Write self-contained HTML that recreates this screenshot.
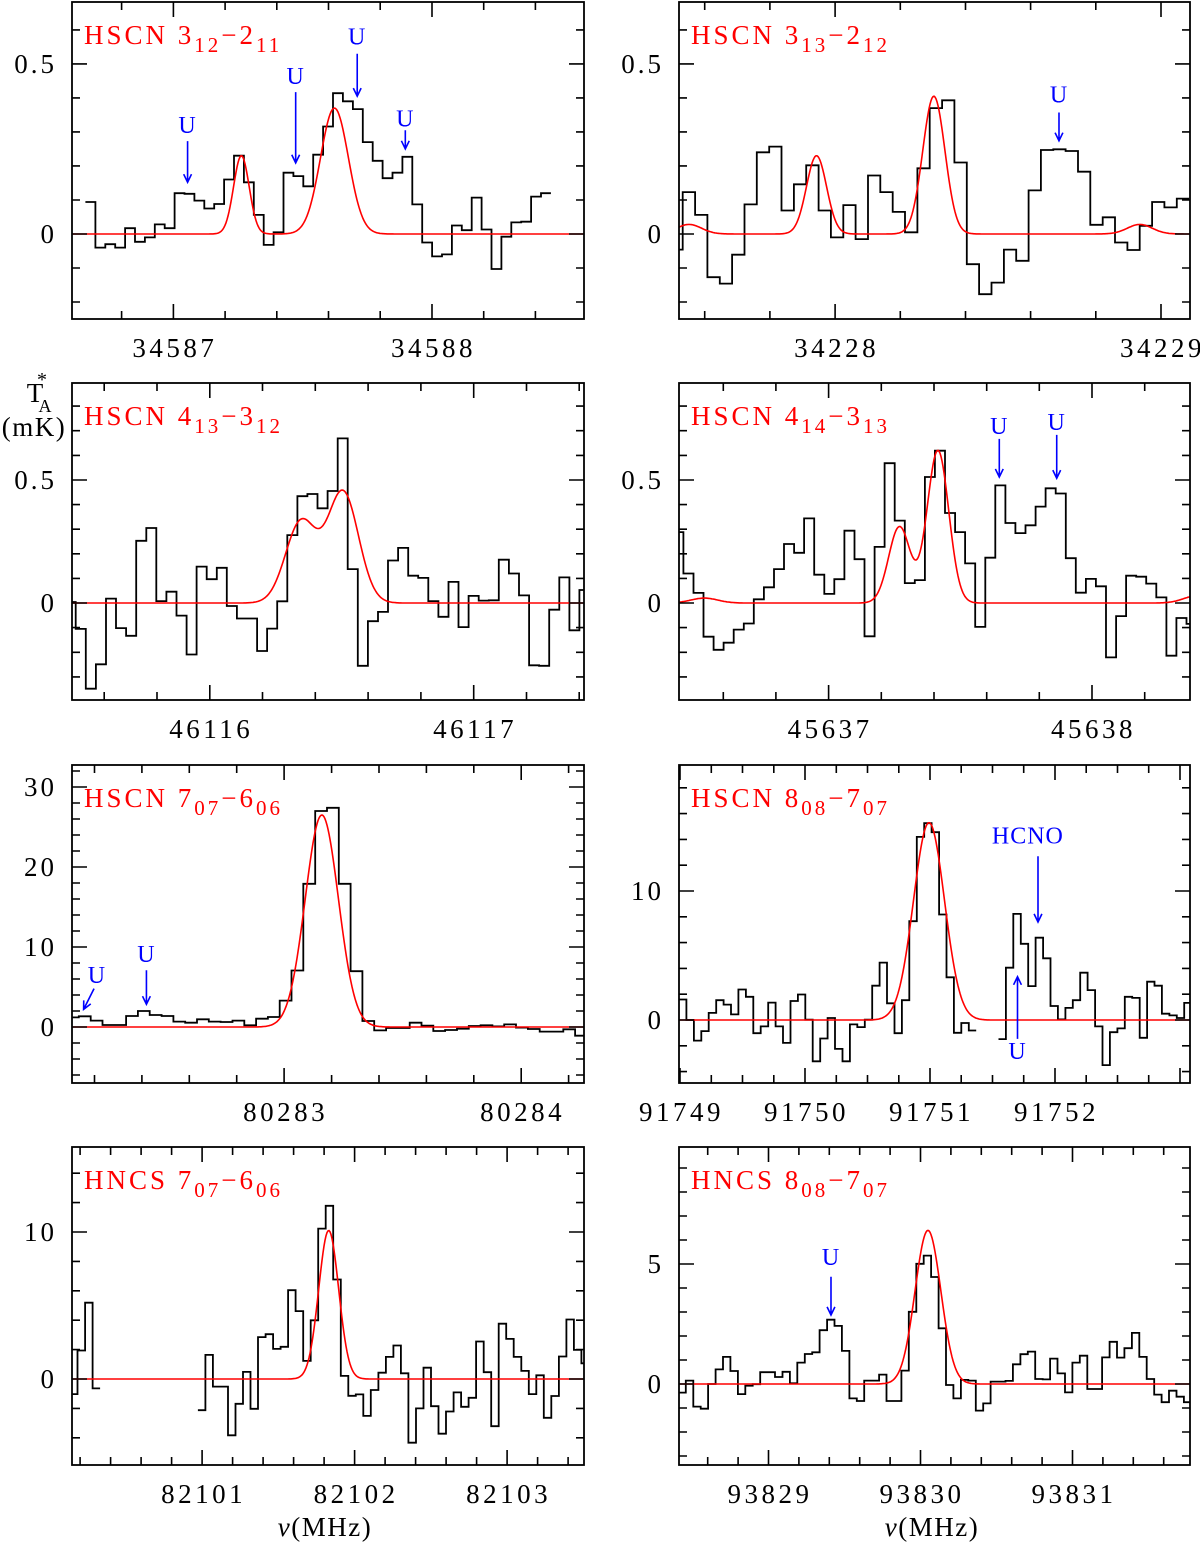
<!DOCTYPE html>
<html><head><meta charset="utf-8">
<style>
html,body{margin:0;padding:0;background:#fff;}
svg{display:block;}
text{font-family:"Liberation Serif","DejaVu Serif",serif;}
</style></head>
<body>
<svg id="fig" width="1200" height="1543" viewBox="0 0 1200 1543" xmlns="http://www.w3.org/2000/svg">
<text x="35" y="402" font-size="27" text-anchor="middle">T</text>
<text x="42" y="386" font-size="20" text-anchor="middle">*</text>
<text x="45" y="412" font-size="18" text-anchor="middle">A</text>
<text x="34" y="436" font-size="27" letter-spacing="1.5" text-anchor="middle">(mK)</text>
<text x="325" y="1536" font-size="27" letter-spacing="1.5" text-anchor="middle"><tspan font-style="italic">ν</tspan>(MHz)</text>
<text x="932" y="1536" font-size="27" letter-spacing="1.5" text-anchor="middle"><tspan font-style="italic">ν</tspan>(MHz)</text>
</svg>
<script>
// ---- data ----
const p1Values = [0.094,-0.04,-0.03,-0.04,0.017,-0.023,-0.01,0.028,0.017,0.12,0.118,0.098,0.075,0.088,0.16,0.23,0.152,0.056,-0.032,0.005,0.18,0.17,0.14,0.233,0.316,0.414,0.39,0.367,0.27,0.215,0.164,0.18,0.227,0.087,-0.025,-0.066,-0.06,0.025,0.011,0.107,0.013,-0.103,-0.008,0.034,0.036,0.11,0.12];
const p1LineFreq = [34587.263, 34587.623];
const p1LineAmp = [0.23, 0.37];
const p1LineFwhm = [0.071, 0.127];
const p1ArrowFreq = [34587.055, 34587.473, 34587.711, 34587.897];
const p1ArrowTip = [0.152, 0.209, 0.405, 0.25];
const p1ArrowTail = [0.273, 0.417, 0.53, 0.305];
const p1ArrowLabel = [0.32, 0.465, 0.58, 0.34];

const p2Values = [-0.046,0.123,0.056,-0.127,-0.146,-0.061,0.087,0.24,0.257,0.069,0.146,0.202,0.069,-0.01,0.085,-0.015,0.172,0.123,0.065,0.005,0.193,0.37,0.393,0.21,-0.089,-0.177,-0.143,-0.046,-0.079,0.128,0.247,0.249,0.244,0.183,0.027,0.049,-0.025,-0.047,0.024,0.094,0.078,0.104];
const p2LineFreq = [34227.552, 34227.943, 34228.303, 34228.935];
const p2LineAmp = [0.028, 0.23, 0.405, 0.028];
const p2LineFwhm = [0.09, 0.0725, 0.08, 0.09];
const p2ArrowFreq = [34228.687];
const p2ArrowTip = [0.274];
const p2ArrowTail = [0.357];
const p2ArrowLabel = [0.41];

const p3Values = [0.004,-0.105,-0.348,-0.249,0.018,-0.102,-0.133,0.253,0.305,0.008,0.046,-0.051,-0.209,0.148,0.097,0.143,-0.012,-0.063,-0.063,-0.195,-0.104,0.007,0.276,0.434,0.443,0.385,0.455,0.669,0.138,-0.255,-0.074,-0.036,0.173,0.224,0.111,0.102,0.008,-0.056,0.086,-0.098,0.029,0.01,0.011,0.176,0.12,0.031,-0.253,-0.255,-0.027,0.104,-0.111,0.053];
const p3LineFreq = [46116.346, 46116.505];
const p3LineAmp = [0.33, 0.45];
const p3LineFwhm = [0.138, 0.138];

const p4Values = [0.288,0.12,0.041,-0.137,-0.19,-0.161,-0.108,-0.083,0.015,0.064,0.138,0.24,0.204,0.344,0.115,0.037,0.097,0.294,0.178,-0.135,0.228,0.568,0.335,0.081,0.093,0.512,0.619,0.366,0.288,0.161,-0.097,0.184,0.478,0.325,0.284,0.316,0.392,0.466,0.445,0.182,0.042,0.098,0.068,-0.221,-0.053,0.111,0.107,0.079,0.023,-0.214,-0.061,-0.085];
const p4LineFreq = [45636.528, 45637.269, 45637.415, 45638.40];
const p4LineAmp = [0.02, 0.31, 0.62, 0.03];
const p4LineFwhm = [0.12, 0.0965, 0.0965, 0.12];
const p4ArrowFreq = [45637.648, 45637.866];
const p4ArrowTip = [0.512, 0.507];
const p4ArrowTail = [0.667, 0.683];
const p4ArrowLabel = [0.72, 0.735];

const p5Values = [1.2,1.34,0.8,0.25,0.25,1.38,2.0,1.5,1.38,0.67,0.54,0.96,0.67,0.63,0.8,0.21,1.04,1.25,3.3,7.06,17.9,27.0,27.4,17.9,6.98,0.75,-0.42,-0.13,-0.13,0.54,0.17,-0.5,-0.38,-0.21,0.13,0.21,0.08,0.33,-0.08,-0.25,-0.58,-0.58,-0.29,-1.09];
const p5LineFreq = [80283.159];
const p5LineAmp = [26.5];
const p5LineFwhm = [0.1645];
const p5ArrowFreq = [80282.419, 80282.154];
const p5ArrowTailFreq = [80282.419, 80282.198];
const p5ArrowTip = [2.84, 2.2];
const p5ArrowTail = [7.1, 4.8];
const p5ArrowLabel = [9.1, 6.5];
const p5ArrowLabelFreq = [80282.419, 80282.21];

const p6Values = [1.59,0,-1.59,-0.86,0.55,1.54,1.2,0.44,2.37,1.8,-1.02,-0.49,1.35,-0.49,-1.77,1.48,1.98,0.03,-3.2,-1.43,0.16,-2.24,-3.2,-0.34,-0.55,0.03,2.66,4.45,1.3,-1.02,1.54,7.66,14.2,15.26,14.56,8.18,3.31,-0.99,-0.23,-0.81,null,null,null,-1.48,4.06,8.23,5.91,2.63,6.38,4.79,1.09,0.05,0.94,1.54,3.67,2.32,-0.49,-3.49,-0.94,-0.65,1.8,1.72,-1.38,2.97,2.66,0.49,0.36,0.16,1.33];
const p6LineFreq = [91750.992];
const p6LineAmp = [15.3];
const p6LineFwhm = [0.292];
const p6ArrowFreq = [91751.864, 91751.700];
const p6ArrowTip = [7.6, 3.36];
const p6ArrowTail = [12.7, -1.46];
const p6ArrowLabel = [14.3, -2.4];
const p6ArrowLabelFreq = [91751.783, 91751.700];
const p6ArrowText = ['HCNO', 'U'];

const p7Values = [-1.03,1.94,5.19,-0.64,null,null,null,null,null,null,null,null,null,null,null,null,null,-2.12,1.64,-0.52,-0.52,-3.83,-1.69,0.48,-2.03,2.85,3.05,2.05,2.19,6.04,4.62,1.23,3.99,10.23,11.78,6.77,0.21,-1.14,-1.05,-2.51,-0.75,0.43,1.5,2.28,0.39,-4.33,-2.0,0.77,-1.85,-3.72,-2.21,-0.91,-1.89,-1.28,2.55,0.46,-3.21,3.76,2.73,1.5,0.55,-1.03,0.25,-2.64,-1.16,1.53,4.05,1.98,1.07];
const p7LineFreq = [82101.830];
const p7LineAmp = [10.1];
const p7LineFwhm = [0.154];

const p8Values = [-0.36,0.14,-0.94,-1.03,0,0.61,1.13,0.54,-0.42,-0.07,-0.01,0.49,0.49,0.29,0.51,0.03,0.89,1.25,1.32,2.24,2.68,2.42,1.38,-0.6,-0.71,0.14,0.14,0.39,-0.71,-0.71,0.56,3.01,5.01,5.35,4.46,2.32,-0.04,-0.6,0.17,0.14,-1.11,-0.81,0.1,0.1,0.13,0.82,1.24,1.35,0.21,0.19,1.06,0.44,-0.35,0.89,1.18,-0.21,-0.21,1.11,1.76,1.1,1.49,2.13,1.13,0.21,-0.44,-0.76,-0.28,-0.53,-0.76];
const p8LineFreq = [93830.049];
const p8LineAmp = [6.4];
const p8LineFwhm = [0.20];
const p8ArrowFreq = [93829.411];
const p8ArrowTip = [2.875];
const p8ArrowTail = [4.47];
const p8ArrowLabel = [5.3];

const p1XLabels = [34587, 34588], p2XLabels = [34228, 34229];
const p3XLabels = [46116, 46117], p4XLabels = [45637, 45638];
const p5XLabels = [80283, 80284], p6XLabels = [91749, 91750, 91751, 91752];
const p7XLabels = [82101, 82102, 82103], p8XLabels = [93829, 93830, 93831];
const p1YLabels = [0, 0.5], p3YLabels = [0, 0.5];
const p5YLabels = [0, 10, 20, 30], p6YLabels = [0, 10], p7YLabels = [0, 10], p8YLabels = [0, 5];

// ---- layout ----
const NS = 'http://www.w3.org/2000/svg';
const fig = document.getElementById('fig');
function mk(tag, attrs, parent) {
  const e = document.createElementNS(NS, tag);
  for (const k in attrs) e.setAttribute(k, attrs[k]);
  (parent || fig).appendChild(e);
  return e;
}
const panels = [
  {n:1, box:[72,2,584,319], xd:[34586.608,34588.588], yd:[-0.25,0.682], xs:0.2, ys:0.1, ym:0.5, vals:p1Values, start:34586.66, w:0.0383, lf:p1LineFreq, la:p1LineAmp, lw:p1LineFwhm, xl:p1XLabels, yl:p1YLabels, t:['HSCN 3','12','−2','11'],
   ar:{f:p1ArrowFreq, tip:p1ArrowTip, tail:p1ArrowTail, lab:p1ArrowLabel}},
  {n:2, box:[679,2,1190,319], xd:[34227.521,34229.089], yd:[-0.25,0.682], xs:0.2, ys:0.1, ym:0.5, vals:p2Values, start:34227.4945, w:0.0379, lf:p2LineFreq, la:p2LineAmp, lw:p2LineFwhm, xl:p2XLabels, yl:p1YLabels, t:['HSCN 3','13','−2','12'],
   ar:{f:p2ArrowFreq, tip:p2ArrowTip, tail:p2ArrowTail, lab:p2ArrowLabel}},
  {n:3, box:[72,383,584,700], xd:[46115.478,46117.418], yd:[-0.394,0.894], xs:0.2, ys:0.1, ym:0.5, vals:p3Values, start:46115.454, w:0.03817, lf:p3LineFreq, la:p3LineAmp, lw:p3LineFwhm, xl:p3XLabels, yl:p3YLabels, t:['HSCN 4','13','−3','12'], ar:null},
  {n:4, box:[679,383,1190,700], xd:[45636.432,45638.372], yd:[-0.394,0.894], xs:0.2, ys:0.1, ym:0.5, vals:p4Values, start:45636.4105, w:0.0382, lf:p4LineFreq, la:p4LineAmp, lw:p4LineFwhm, xl:p4XLabels, yl:p3YLabels, t:['HSCN 4','14','−3','13'],
   ar:{f:p4ArrowFreq, tip:p4ArrowTip, tail:p4ArrowTail, lab:p4ArrowLabel}},
  {n:5, box:[72,765,584,1083], xd:[80282.105,80284.265], yd:[-7,32.75], xs:0.2, ys:2, ym:10, vals:p5Values, start:80282.084, w:0.04985, lf:p5LineFreq, la:p5LineAmp, lw:p5LineFwhm, xl:p5XLabels, yl:p5YLabels, t:['HSCN 7','07','−6','06'],
   ar:{f:p5ArrowFreq, tf:p5ArrowTailFreq, lf:p5ArrowLabelFreq, tip:p5ArrowTip, tail:p5ArrowTail, lab:p5ArrowLabel}},
  {n:6, box:[679,765,1190,1083], xd:[91748.992,91753.08], yd:[-4.88,19.77], xs:0.25, ys:2, ym:10, vals:p6Values, start:91748.992, w:0.05944, lf:p6LineFreq, la:p6LineAmp, lw:p6LineFwhm, xl:p6XLabels, yl:p6YLabels, t:['HSCN 8','08','−7','07'],
   ar:{f:p6ArrowFreq, lf:p6ArrowLabelFreq, tip:p6ArrowTip, tail:p6ArrowTail, lab:p6ArrowLabel, txt:p6ArrowText}},
  {n:7, box:[72,1147,584,1465], xd:[82100.147,82103.504], yd:[-5.85,15.78], xs:0.2, ys:2, ym:10, vals:p7Values, start:82100.134, w:0.04931, lf:p7LineFreq, la:p7LineAmp, lw:p7LineFwhm, xl:p7XLabels, yl:p7YLabels, t:['HNCS 7','07','−6','06'], ar:null},
  {n:8, box:[679,1147,1190,1465], xd:[93828.411,93831.773], yd:[-3.375,9.875], xs:0.2, ys:1, ym:5, vals:p8Values, start:93828.407, w:0.04891, lf:p8LineFreq, la:p8LineAmp, lw:p8LineFwhm, xl:p8XLabels, yl:p8YLabels, t:['HNCS 8','08','−7','07'],
   ar:{f:p8ArrowFreq, tip:p8ArrowTip, tail:p8ArrowTail, lab:p8ArrowLabel}}
];

panels.forEach(p => {
  const [x0,y0,x1,y1] = p.box;
  const sx = f => x0 + (f - p.xd[0]) / (p.xd[1] - p.xd[0]) * (x1 - x0);
  const sy = v => y0 + (p.yd[1] - v) / (p.yd[1] - p.yd[0]) * (y1 - y0);
  const g = mk('g', {});
  
  
  const cp = mk('clipPath', {id: 'clip' + p.n}, g);
  mk('rect', {x:x0, y:y0, width:x1-x0, height:y1-y0}, cp);

  let d = '';
  for (let px = x0; px <= x1; px += 1) {
    const f = p.xd[0] + (px - x0) / (x1 - x0) * (p.xd[1] - p.xd[0]);
    let v = 0;
    for (let i = 0; i < p.lf.length; i++) {
      v += p.la[i] * Math.exp(-4 * Math.LN2 * Math.pow(f - p.lf[i], 2) / Math.pow(p.lw[i], 2));
    }
    d += (d ? 'L' : 'M') + sx(f).toFixed(1) + ',' + sy(v).toFixed(1);
  }
  let s = '';
  let prev = null;
  p.vals.forEach((v, i) => {
    const a = sx(p.start + i * p.w), b = sx(p.start + (i + 1) * p.w);
    if (v === null) { prev = null; return; }
    if (prev === null) s += 'M' + a.toFixed(1) + ',' + sy(v).toFixed(1);
    else s += 'L' + a.toFixed(1) + ',' + sy(v).toFixed(1);
    s += 'L' + b.toFixed(1) + ',' + sy(v).toFixed(1);
    prev = v;
  });
  const sp = mk('path', {d:s, fill:'none', stroke:'#000', 'stroke-width':1.8, 'clip-path':'url(#clip'+p.n+')'}, g);
  
  
  const mp = mk('path', {d:d, fill:'none', stroke:'#ff0000', 'stroke-width':1.6, 'clip-path':'url(#clip'+p.n+')'}, g);
  
  

  const fr = mk('rect', {x:x0, y:y0, width:x1-x0, height:y1-y0, fill:'none', stroke:'#000', 'stroke-width':1.8}, g);
  
  

  let tk = '';
  const isMaj = (v, m) => Math.abs(v / m - Math.round(v / m)) < 1e-6;
  for (let k = Math.ceil(p.xd[0] / p.xs); k * p.xs <= p.xd[1]; k++) {
    const v = k * p.xs, X = sx(v).toFixed(1);
    const L = isMaj(v, 1) ? 15 : 8;
    tk += 'M' + X + ',' + y1 + 'v-' + L + 'M' + X + ',' + y0 + 'v' + L;
  }
  for (let k = Math.ceil(p.yd[0] / p.ys - 1e-9); k * p.ys <= p.yd[1]; k++) {
    const v = k * p.ys, Y = sy(v).toFixed(1);
    const L = isMaj(v, p.ym) ? 15 : 8;
    tk += 'M' + x0 + ',' + Y + 'h' + L + 'M' + x1 + ',' + Y + 'h-' + L;
  }
  const tp = mk('path', {d:tk, stroke:'#000', 'stroke-width':1.6, fill:'none'}, g);
  
  

  p.xl.forEach(v => {
    const t = mk('text', {x:sx(v) + 1.5, y:y1 + 38, 'font-size':27, 'letter-spacing':3.5, 'text-anchor':'middle'}, g);
    t.textContent = String(v);
    
    
  });
  p.yl.forEach(v => {
    const t = mk('text', {x:x0 - 15, y:sy(v) + 9, 'font-size':27, 'letter-spacing':3, 'text-anchor':'end'}, g);
    t.textContent = String(v);
    
    
  });

  const tt = mk('text', {x:x0 + 12, y:y0 + 42, 'font-size':27, fill:'#ff0000', 'letter-spacing':3}, g);
  
  
  const parts = [[p.t[0],0,27],[p.t[1],8,21],[p.t[2],-8,27],[p.t[3],8,21]];
  parts.forEach(q => {
    const ts = mk('tspan', {dy:q[1], 'font-size':q[2]}, tt);
    ts.textContent = q[0];
  });

  if (p.ar) {
    const a = p.ar;
    a.f.forEach((f, i) => {
      const tf = a.tf ? a.tf[i] : f;
      const lf = a.lf ? a.lf[i] : f;
      const X1 = sx(tf), Y1 = sy(a.tail[i]), X2 = sx(f), Y2 = sy(a.tip[i]);
      const ang = Math.atan2(Y2 - Y1, X2 - X1);
      const h = 9, sp2 = 0.45;
      const ax = X2 - h * Math.cos(ang - sp2), ay = Y2 - h * Math.sin(ang - sp2);
      const bx = X2 - h * Math.cos(ang + sp2), by = Y2 - h * Math.sin(ang + sp2);
      const ag = mk('path', {d:`M${X1},${Y1}L${X2},${Y2}M${ax},${ay}L${X2},${Y2}L${bx},${by}`, stroke:'#0000ff', 'stroke-width':1.6, fill:'none'}, g);
      
      
      const lt = mk('text', {x:sx(lf), y:sy(a.lab[i]) + 8, 'font-size':24, fill:'#0000ff', 'text-anchor':'middle', 'letter-spacing':1}, g);
      lt.textContent = a.txt ? a.txt[i] : 'U';
      
      
    });
  }
});
</script>
</body></html>
